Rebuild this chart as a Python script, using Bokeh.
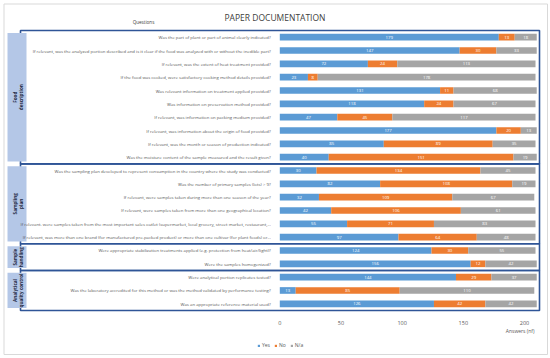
from math import pi
from bokeh.plotting import figure
from bokeh.models import (Range1d, LinearAxis, FixedTicker, ColumnDataSource, Label,
                          Legend, LegendItem)
from bokeh.core.properties import value
from bokeh.embed import file_html
from bokeh.resources import INLINE

# ---------------- data ----------------
questions = [
    "Was the part of plant or part of animal clearly indicated?",
    "If relevant, was the analyzed portion described and is it clear if the food was analyzed with or without the inedible part?",
    "If relevant, was the extent of heat treatment provided?",
    "If the food was cooked, were satisfactory cooking method details provided?",
    "Was relevant information on treatment applied provided?",
    "Was information on preservation method provided?",
    "If relevant, was information on packing medium provided?",
    "If relevant, was information about the origin of food provided?",
    "If relevant, was the month or season of production indicated?",
    "Was the moisture content of the sample measured and the result given?",
    "Was the sampling plan developed to represent consumption in the country where the study was conducted?",
    "Was the number of primary samples (lots) > 9?",
    "If relevant, were samples taken during more than one season of the year?",
    "If relevant, were samples taken from more than one geographical location?",
    "If relevant. were samples taken from the most important sales outlet (supermarket, local grocery, street market, restaurant,...",
    "If relevant, was more than one brand (for manufactured pre-packed product) or more than one cultivar (for plant foods) or...",
    "Were appropriate stabilization treatments applied (e.g. protection from heat/air/light)?",
    "Were the samples homogenized?",
    "Were analytical portion replicates tested?",
    "Was the laboratory accredited for this method or was the method validated by performance testing?",
    "Was an appropriate reference material used?",
]
yes = [179, 147, 72, 23, 131, 118, 47, 177, 85, 40, 30, 82, 32, 42, 55, 97, 124, 156, 144, 13, 126]
no = [13, 30, 24, 8, 11, 24, 45, 20, 89, 151, 134, 108, 109, 106, 71, 64, 30, 12, 29, 85, 42]
na = [18, 33, 113, 178, 68, 67, 117, 13, 35, 19, 45, 19, 67, 61, 83, 48, 55, 42, 37, 110, 42]
groups = ["Food\ndescription", "Sampling\nplan", "Sample\nhandling", "Analytical\nquality control"]
group_sizes = [10, 6, 2, 3]
x_ticks = [0, 50, 100, 150, 200]
series = ["Yes", "No", "N/a"]
colors = ["#5B9BD5", "#ED7D31", "#A5A5A5"]

# ---------------- layout helpers (canvas pixels -> data) ----------------
W, H = 550, 358
X0, SX = 279.3, 1.2235   # canvas px of value 0, px per answer
Y0, SY = 36.7, 13.33     # canvas px of first row, px per row


def dx(cx):
    return (cx - X0) / SX


def dy(cy):
    return (cy - Y0) / SY


FONT = "Open Sans"

p = figure(width=W, height=H, x_range=Range1d(dx(0), dx(W)), y_range=Range1d(dy(H), dy(0)),
           output_backend="svg", toolbar_location=None, min_border=0,
           x_axis_type=None, y_axis_type=None, outline_line_color=None)
p.xgrid.visible = False
p.ygrid.visible = False

# outer light border
p.quad(left=[dx(3.5)], right=[dx(547)], top=[dy(3.5)], bottom=[dy(354)],
       fill_color=None, line_color="#D9D9D9", line_width=1)

# group boxes
starts = []
s = 0
for n in group_sizes:
    starts.append(s)
    s += n
box_top = [st - 0.5 for st in starts]
box_bot = [st + n - 0.5 for st, n in zip(starts, group_sizes)]
p.quad(left=dx(20), right=dx(539), top=box_top, bottom=box_bot,
       fill_color=None, line_color="#2F5597", line_width=1.6)

# label boxes
p.quad(left=dx(7), right=dx(26), top=[t + 0.18 for t in box_top],
       bottom=[b - 0.18 for b in box_bot], fill_color="#B4C7E7", line_color=None)
p.text(x=[dx(17)] * len(groups), y=[(t + b) / 2 for t, b in zip(box_top, box_bot)],
       text=groups, angle=pi / 2, text_align="center", text_baseline="middle",
       text_font=value(FONT), text_font_style="bold", text_font_size="4.6px",
       text_color="#1F2A44", text_line_height=1.0)

# bars
rows = list(range(len(questions)))
src = ColumnDataSource(dict(y=rows, Yes=yes, No=no, **{"N/a": na}))
renderers = p.hbar_stack(series, y="y", height=0.5, color=colors, line_color=None, source=src)

# value labels
lx, ly, lt = [], [], []
for i in rows:
    acc = 0
    for v in (yes[i], no[i], na[i]):
        lx.append(acc + v / 2)
        ly.append(i)
        lt.append(str(v))
        acc += v
p.text(x=lx, y=ly, text=lt, text_align="center", text_baseline="middle",
       text_font=value(FONT), text_font_size="4.3px", text_color="white")

# axes
xaxis = LinearAxis(ticker=FixedTicker(ticks=x_ticks), fixed_location=20.5,
                   axis_line_color=None, major_tick_line_color=None, minor_tick_line_color=None,
                   major_label_text_font=FONT, major_label_text_font_size="5.5px",
                   major_label_text_color="#595959", major_label_standoff=5)
p.add_layout(xaxis, "below")

yaxis = LinearAxis(ticker=FixedTicker(ticks=rows), fixed_location=0,
                   major_label_overrides={i: q for i, q in zip(rows, questions)},
                   axis_line_color=None, major_tick_line_color=None, minor_tick_line_color=None,
                   major_label_text_font=FONT, major_label_text_font_size="4.3px",
                   major_label_text_color="#595959", major_label_standoff=3)
p.add_layout(yaxis, "left")

# texts
p.add_layout(Label(x=dx(274.5), y=dy(17), text="PAPER DOCUMENTATION", text_align="center",
                   text_baseline="middle", text_font=FONT, text_font_size="8.5px",
                   text_color="#404040"))
p.add_layout(Label(x=dx(143), y=dy(21), text="Questions", text_align="center",
                   text_baseline="middle", text_font=FONT, text_font_size="4.6px",
                   text_color="#404040"))
p.add_layout(Label(x=dx(534), y=dy(330), text="Answers (nf)", text_align="right",
                   text_baseline="middle", text_font=FONT, text_font_size="5px",
                   text_color="#595959"))

legend = Legend(items=[LegendItem(label=s_, renderers=[r]) for s_, r in zip(series, renderers)],
                location=(257, 10), orientation="horizontal", label_text_font=FONT,
                label_text_font_size="5px", label_text_color="#595959", glyph_width=3,
                glyph_height=3, label_height=6, label_width=0, label_standoff=2, spacing=4,
                padding=0, margin=0, border_line_color=None, background_fill_alpha=0)
p.add_layout(legend)

open("out.html", "w").write(file_html(p, INLINE))
